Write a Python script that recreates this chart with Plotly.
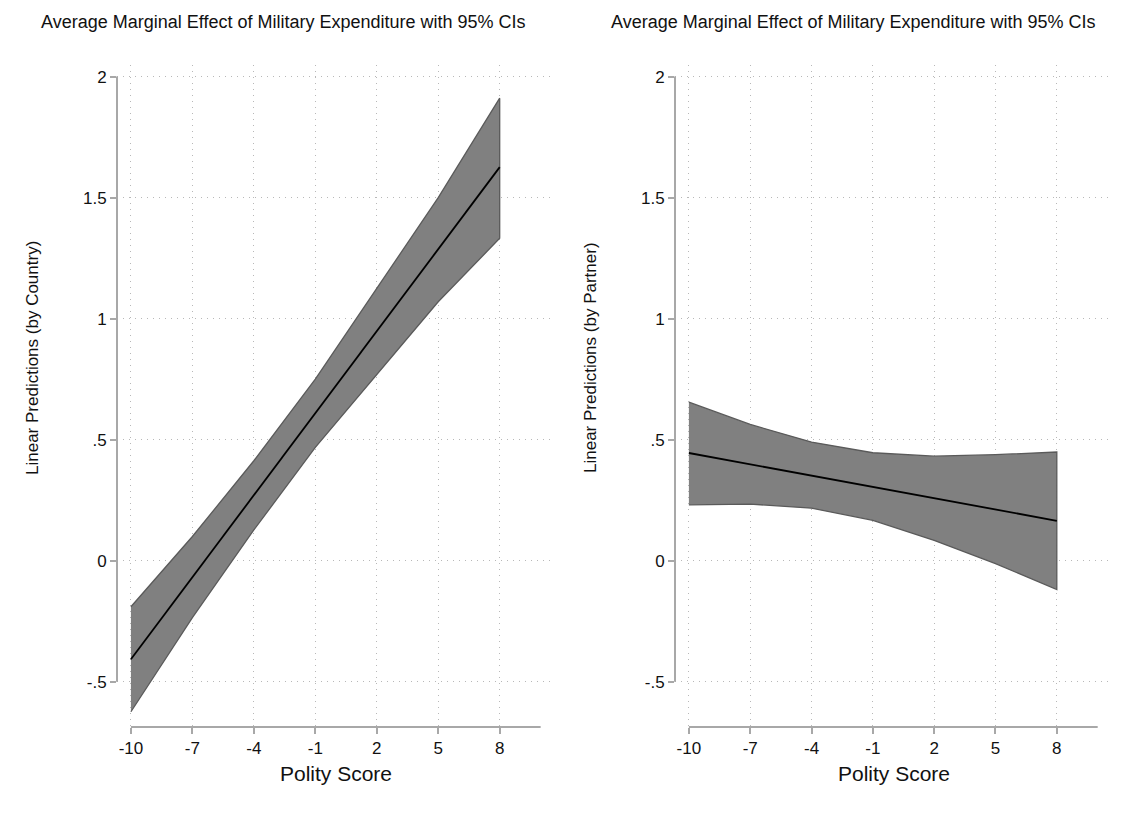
import plotly.graph_objects as go

W, H = 1139, 828

polity = [-10, -7, -4, -1, 2, 5, 8]
polity_labels = ["-10", "-7", "-4", "-1", "2", "5", "8"]

country_fit = [-0.407, -0.068, 0.270, 0.609, 0.948, 1.287, 1.626]
country_hi = [-0.190, 0.100, 0.413, 0.750, 1.125, 1.500, 1.911]
country_lo = [-0.624, -0.235, 0.127, 0.468, 0.771, 1.070, 1.332]

partner_fit = [0.445, 0.398, 0.352, 0.305, 0.258, 0.212, 0.165]
partner_hi = [0.655, 0.563, 0.490, 0.446, 0.432, 0.438, 0.449]
partner_lo = [0.231, 0.234, 0.217, 0.167, 0.084, -0.012, -0.119]

y_ticks = [-0.5, 0, 0.5, 1, 1.5, 2]
y_ticktext = ["-.5", "0", ".5", "1", "1.5", "2"]

title_text = "Average Marginal Effect of Military Expenditure with 95% CIs"
ytitles = ["Linear Predictions (by Country)", "Linear Predictions (by Partner)"]
xtitle = "Polity Score"

FONT = "Liberation Sans, Arial, Helvetica, sans-serif"
BAND = "#808080"
BAND_EDGE = "#5a5a5a"
AXIS = "#a8a8a8"
GRID = "#b8b8b8"
TXT = "#111111"

fig = go.Figure()

panels = [
    (country_fit, country_hi, country_lo, "x", "y"),
    (partner_fit, partner_hi, partner_lo, "x2", "y2"),
]
for fit, hi, lo, xa, ya in panels:
    fig.add_trace(go.Scatter(
        x=polity + polity[::-1], y=hi + lo[::-1],
        fill="toself", fillcolor=BAND, mode="lines",
        line=dict(color=BAND_EDGE, width=1.3),
        xaxis=xa, yaxis=ya, showlegend=False, hoverinfo="skip"))
    fig.add_trace(go.Scatter(
        x=polity, y=fit, mode="lines",
        line=dict(color="black", width=1.8),
        xaxis=xa, yaxis=ya, showlegend=False))


def px_x(a, b):
    return [a / W, b / W]


def px_y(top, bottom):
    return [1 - bottom / H, 1 - top / H]


xdoms = [px_x(117, 555), px_x(675, 1112)]
ydom = px_y(65, 727)

common_x = dict(range=[-10.68, 10.7], tickvals=polity, ticktext=polity_labels,
                showgrid=True, gridcolor=GRID, griddash="1px,5px", gridwidth=1,
                ticks="outside", ticklen=6, tickwidth=1.5, tickcolor=AXIS,
                showline=False, zeroline=False,
                tickfont=dict(family=FONT, size=17, color=TXT))
common_y = dict(range=[-0.687, 2.048], tickvals=y_ticks, ticktext=y_ticktext,
                showgrid=True, gridcolor=GRID, griddash="1px,5px", gridwidth=1,
                ticks="outside", ticklen=6, tickwidth=1.5, tickcolor=AXIS,
                showline=False, zeroline=False,
                tickfont=dict(family=FONT, size=17, color=TXT))

fig.update_layout(
    width=W, height=H,
    margin=dict(l=0, r=0, t=0, b=0),
    paper_bgcolor="white", plot_bgcolor="white",
    xaxis=dict(domain=xdoms[0], anchor="y", **common_x),
    yaxis=dict(domain=ydom, anchor="x", **common_y),
    xaxis2=dict(domain=xdoms[1], anchor="y2", **common_x),
    yaxis2=dict(domain=ydom, anchor="x2", **common_y),
)

shapes = []
for xa, ya in [("x", "y"), ("x2", "y2")]:
    shapes.append(dict(type="line", xref=f"{xa} domain", yref=ya,
                       x0=0, x1=0, y0=-0.5, y1=2,
                       line=dict(color=AXIS, width=2)))
    shapes.append(dict(type="line", xref=xa, yref=f"{ya} domain",
                       x0=-10, x1=10, y0=0, y1=0,
                       line=dict(color=AXIS, width=2)))
fig.update_layout(shapes=shapes)

annotations = []
for cx in [283, 853]:
    annotations.append(dict(text=title_text, x=cx / W, y=1 - 22 / H,
                            xref="paper", yref="paper", showarrow=False,
                            xanchor="center", yanchor="middle",
                            font=dict(family=FONT, size=18, color=TXT)))
for tx, tt in zip([33, 591], ytitles):
    annotations.append(dict(text=tt, x=tx / W, y=1 - 358 / H,
                            xref="paper", yref="paper", showarrow=False,
                            textangle=-90, xanchor="center", yanchor="middle",
                            font=dict(family=FONT, size=17, color=TXT)))
for tx in [336, 894]:
    annotations.append(dict(text=xtitle, x=tx / W, y=1 - 773 / H,
                            xref="paper", yref="paper", showarrow=False,
                            xanchor="center", yanchor="middle",
                            font=dict(family=FONT, size=21, color=TXT)))
fig.update_layout(annotations=annotations)

fig.write_html("out.html")
